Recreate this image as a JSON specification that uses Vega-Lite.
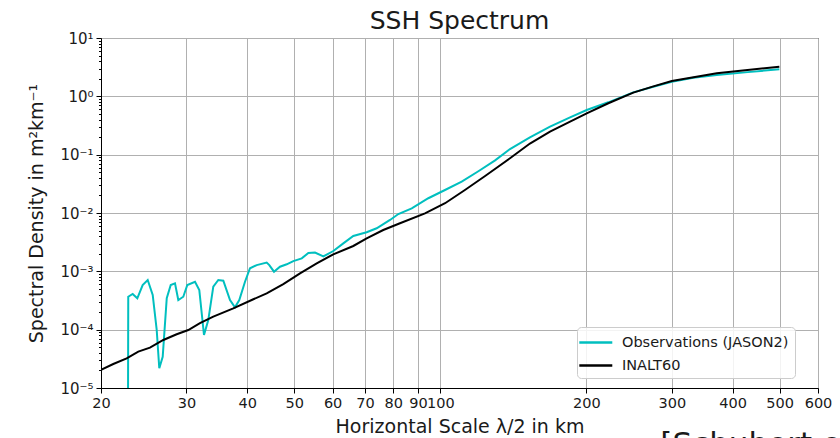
{
  "$schema": "https://vega.github.io/schema/vega-lite/v6.json",
  "width": 717,
  "height": 350,
  "autosize": {"type": "none"},
  "padding": {"left": 101, "top": 38, "right": 22, "bottom": 50},
  "background": "white",
  "title": {"text": "SSH Spectrum", "fontSize": 25, "font": "DejaVu Sans", "fontWeight": "normal", "color": "#1a1a1a", "offset": -3},
  "config": {
    "view": {"stroke": "#000000", "strokeWidth": 1},
    "font": "DejaVu Sans",
    "axis": {"labelFont": "DejaVu Sans", "titleFont": "DejaVu Sans", "labelColor": "#1a1a1a", "titleColor": "#1a1a1a", "domainColor": "#000000", "tickColor": "#000000", "gridColor": "#b0b0b0", "gridWidth": 1, "titleFontWeight": "normal"}
  },
  "layer": [
    {
      "data": {"values": [
        {"series": "Observations (JASON2)", "x": 22.70, "y": 1e-8},
        {"series": "Observations (JASON2)", "x": 22.76, "y": 3.67e-4},
        {"series": "Observations (JASON2)", "x": 23.24, "y": 4.09e-4},
        {"series": "Observations (JASON2)", "x": 23.76, "y": 3.45e-4},
        {"series": "Observations (JASON2)", "x": 24.37, "y": 5.83e-4},
        {"series": "Observations (JASON2)", "x": 24.96, "y": 7.10e-4},
        {"series": "Observations (JASON2)", "x": 25.56, "y": 3.93e-4},
        {"series": "Observations (JASON2)", "x": 26.05, "y": 9.87e-5},
        {"series": "Observations (JASON2)", "x": 26.37, "y": 2.18e-5},
        {"series": "Observations (JASON2)", "x": 26.80, "y": 3.44e-5},
        {"series": "Observations (JASON2)", "x": 27.32, "y": 3.45e-4},
        {"series": "Observations (JASON2)", "x": 27.84, "y": 5.83e-4},
        {"series": "Observations (JASON2)", "x": 28.41, "y": 6.23e-4},
        {"series": "Observations (JASON2)", "x": 28.86, "y": 3.22e-4},
        {"series": "Observations (JASON2)", "x": 29.55, "y": 3.67e-4},
        {"series": "Observations (JASON2)", "x": 30.12, "y": 5.83e-4},
        {"series": "Observations (JASON2)", "x": 31.24, "y": 6.64e-4},
        {"series": "Observations (JASON2)", "x": 31.88, "y": 4.79e-4},
        {"series": "Observations (JASON2)", "x": 32.60, "y": 8.10e-5},
        {"series": "Observations (JASON2)", "x": 33.27, "y": 1.46e-4},
        {"series": "Observations (JASON2)", "x": 34.07, "y": 5.45e-4},
        {"series": "Observations (JASON2)", "x": 34.89, "y": 7.10e-4},
        {"series": "Observations (JASON2)", "x": 35.73, "y": 6.91e-4},
        {"series": "Observations (JASON2)", "x": 36.88, "y": 3.22e-4},
        {"series": "Observations (JASON2)", "x": 37.76, "y": 2.42e-4},
        {"series": "Observations (JASON2)", "x": 38.54, "y": 3.22e-4},
        {"series": "Observations (JASON2)", "x": 39.60, "y": 6.64e-4},
        {"series": "Observations (JASON2)", "x": 40.55, "y": 1.13e-3},
        {"series": "Observations (JASON2)", "x": 41.86, "y": 1.28e-3},
        {"series": "Observations (JASON2)", "x": 43.89, "y": 1.41e-3},
        {"series": "Observations (JASON2)", "x": 44.44, "y": 1.28e-3},
        {"series": "Observations (JASON2)", "x": 45.44, "y": 9.86e-4},
        {"series": "Observations (JASON2)", "x": 46.75, "y": 1.20e-3},
        {"series": "Observations (JASON2)", "x": 48.27, "y": 1.32e-3},
        {"series": "Observations (JASON2)", "x": 49.80, "y": 1.50e-3},
        {"series": "Observations (JASON2)", "x": 51.83, "y": 1.67e-3},
        {"series": "Observations (JASON2)", "x": 53.48, "y": 2.06e-3},
        {"series": "Observations (JASON2)", "x": 55.20, "y": 2.10e-3},
        {"series": "Observations (JASON2)", "x": 57.42, "y": 1.80e-3},
        {"series": "Observations (JASON2)", "x": 60.21, "y": 2.23e-3},
        {"series": "Observations (JASON2)", "x": 63.13, "y": 3.02e-3},
        {"series": "Observations (JASON2)", "x": 66.19, "y": 4.03e-3},
        {"series": "Observations (JASON2)", "x": 70.52, "y": 4.67e-3},
        {"series": "Observations (JASON2)", "x": 73.95, "y": 5.47e-3},
        {"series": "Observations (JASON2)", "x": 78.79, "y": 7.6e-3},
        {"series": "Observations (JASON2)", "x": 81.96, "y": 9.6e-3},
        {"series": "Observations (JASON2)", "x": 87.34, "y": 1.20e-2},
        {"series": "Observations (JASON2)", "x": 94.48, "y": 1.79e-2},
        {"series": "Observations (JASON2)", "x": 102.26, "y": 2.48e-2},
        {"series": "Observations (JASON2)", "x": 110.7, "y": 3.44e-2},
        {"series": "Observations (JASON2)", "x": 119.8, "y": 5.2e-2},
        {"series": "Observations (JASON2)", "x": 129.7, "y": 8.0e-2},
        {"series": "Observations (JASON2)", "x": 139.2, "y": 0.125},
        {"series": "Observations (JASON2)", "x": 153.0, "y": 0.198},
        {"series": "Observations (JASON2)", "x": 168.3, "y": 0.302},
        {"series": "Observations (JASON2)", "x": 185.1, "y": 0.437},
        {"series": "Observations (JASON2)", "x": 200.3, "y": 0.583},
        {"series": "Observations (JASON2)", "x": 221.9, "y": 0.79},
        {"series": "Observations (JASON2)", "x": 249.8, "y": 1.17},
        {"series": "Observations (JASON2)", "x": 274.8, "y": 1.46},
        {"series": "Observations (JASON2)", "x": 299.9, "y": 1.78},
        {"series": "Observations (JASON2)", "x": 332.1, "y": 2.09},
        {"series": "Observations (JASON2)", "x": 371.2, "y": 2.32},
        {"series": "Observations (JASON2)", "x": 430.0, "y": 2.6},
        {"series": "Observations (JASON2)", "x": 499.5, "y": 2.91},
        {"series": "INALT60", "x": 20.0, "y": 2.05e-5},
        {"series": "INALT60", "x": 21.20, "y": 2.58e-5},
        {"series": "INALT60", "x": 22.59, "y": 3.23e-5},
        {"series": "INALT60", "x": 23.87, "y": 4.21e-5},
        {"series": "INALT60", "x": 25.23, "y": 4.91e-5},
        {"series": "INALT60", "x": 26.88, "y": 6.65e-5},
        {"series": "INALT60", "x": 28.64, "y": 8.33e-5},
        {"series": "INALT60", "x": 30.26, "y": 9.87e-5},
        {"series": "INALT60", "x": 31.98, "y": 1.29e-4},
        {"series": "INALT60", "x": 34.07, "y": 1.67e-4},
        {"series": "INALT60", "x": 37.46, "y": 2.32e-4},
        {"series": "INALT60", "x": 41.20, "y": 3.32e-4},
        {"series": "INALT60", "x": 43.89, "y": 4.20e-4},
        {"series": "INALT60", "x": 47.49, "y": 6.06e-4},
        {"series": "INALT60", "x": 51.41, "y": 9.25e-4},
        {"series": "INALT60", "x": 55.65, "y": 1.37e-3},
        {"series": "INALT60", "x": 60.2, "y": 1.96e-3},
        {"series": "INALT60", "x": 66.19, "y": 2.72e-3},
        {"series": "INALT60", "x": 70.52, "y": 3.68e-3},
        {"series": "INALT60", "x": 76.3, "y": 5.11e-3},
        {"series": "INALT60", "x": 82.6, "y": 6.66e-3},
        {"series": "INALT60", "x": 93.0, "y": 9.88e-3},
        {"series": "INALT60", "x": 102.3, "y": 1.47e-2},
        {"series": "INALT60", "x": 112.4, "y": 2.48e-2},
        {"series": "INALT60", "x": 123.7, "y": 4.3e-2},
        {"series": "INALT60", "x": 139.2, "y": 8.7e-2},
        {"series": "INALT60", "x": 153.0, "y": 0.155},
        {"series": "INALT60", "x": 168.3, "y": 0.248},
        {"series": "INALT60", "x": 185.1, "y": 0.367},
        {"series": "INALT60", "x": 200.3, "y": 0.512},
        {"series": "INALT60", "x": 221.9, "y": 0.760},
        {"series": "INALT60", "x": 249.8, "y": 1.16},
        {"series": "INALT60", "x": 274.8, "y": 1.48},
        {"series": "INALT60", "x": 299.9, "y": 1.83},
        {"series": "INALT60", "x": 371.2, "y": 2.48},
        {"series": "INALT60", "x": 499.5, "y": 3.22}
      ]},
      "mark": {"type": "line", "clip": true, "strokeWidth": 2},
      "encoding": {
        "x": {
          "field": "x", "type": "quantitative",
          "scale": {"type": "log", "domain": [20, 600], "nice": false},
          "axis": {
            "title": "Horizontal Scale λ/2 in km",
            "values": [20, 30, 40, 50, 60, 70, 80, 90, 100, 200, 300, 400, 500, 600],
            "format": "d",
            "labelFontSize": 14.5, "labelOverlap": false, "labelFlush": false, "labelBound": false,
            "tickSize": 5, "labelPadding": 3,
            "titleFontSize": 19, "titlePadding": 8
          }
        },
        "y": {
          "field": "y", "type": "quantitative",
          "scale": {"type": "log", "domain": [1e-5, 10], "nice": false},
          "axis": {
            "title": "Spectral Density in m²km⁻¹",
            "values": [1e-5, 2e-5, 3e-5, 4e-5, 5e-5, 6e-5, 7e-5, 8e-5, 9e-5, 1e-4, 2e-4, 3e-4, 4e-4, 5e-4, 6e-4, 7e-4, 8e-4, 9e-4, 1e-3, 2e-3, 3e-3, 4e-3, 5e-3, 6e-3, 7e-3, 8e-3, 9e-3, 1e-2, 2e-2, 3e-2, 4e-2, 5e-2, 6e-2, 7e-2, 8e-2, 9e-2, 0.1, 0.2, 0.3, 0.4, 0.5, 0.6, 0.7, 0.8, 0.9, 1, 2, 3, 4, 5, 6, 7, 8, 9, 10],
            "labelExpr": "abs(log(datum.value)/LN10 - round(log(datum.value)/LN10)) < 0.001 ? ['10⁻⁵','10⁻⁴','10⁻³','10⁻²','10⁻¹','10⁰','10¹'][round(log(datum.value)/LN10)+5] : ''",
            "labelFontSize": 15, "labelOverlap": false, "labelFlush": false, "labelBound": false,
            "tickSize": {"condition": {"test": "abs(log(datum.value)/LN10 - round(log(datum.value)/LN10)) < 0.001", "value": 5}, "value": 2.5},
            "gridOpacity": {"condition": {"test": "abs(log(datum.value)/LN10 - round(log(datum.value)/LN10)) < 0.001", "value": 1}, "value": 0},
            "labelPadding": 3,
            "titleFontSize": 19, "titlePadding": 13
          }
        },
        "color": {
          "field": "series", "type": "nominal",
          "scale": {"domain": ["Observations (JASON2)", "INALT60"], "range": ["#00bfbf", "#000000"]},
          "legend": {
            "title": null, "orient": "none", "legendX": 476, "legendY": 289,
            "fillColor": "rgba(255,255,255,0.85)", "strokeColor": "#cccccc", "cornerRadius": 4, "padding": 6,
            "labelFontSize": 14.5, "labelColor": "#1a1a1a", "labelFont": "DejaVu Sans", "labelOffset": 20, "labelLimit": 0,
            "symbolType": "M-1.6,0H2.4", "symbolSize": 272, "symbolStrokeWidth": 2.5, "rowPadding": 7
          }
        }
      }
    },
    {
      "data": {"values": [{"x": 284, "label": "[Schubert et al., 2019]"}]},
      "mark": {"type": "text", "align": "left", "baseline": "alphabetic", "fontSize": 31, "dy": 66, "color": "#1a1a1a", "font": "DejaVu Sans"},
      "encoding": {
        "x": {"field": "x", "type": "quantitative"},
        "y": {"datum": 1e-5},
        "text": {"field": "label"}
      }
    }
  ]
}
